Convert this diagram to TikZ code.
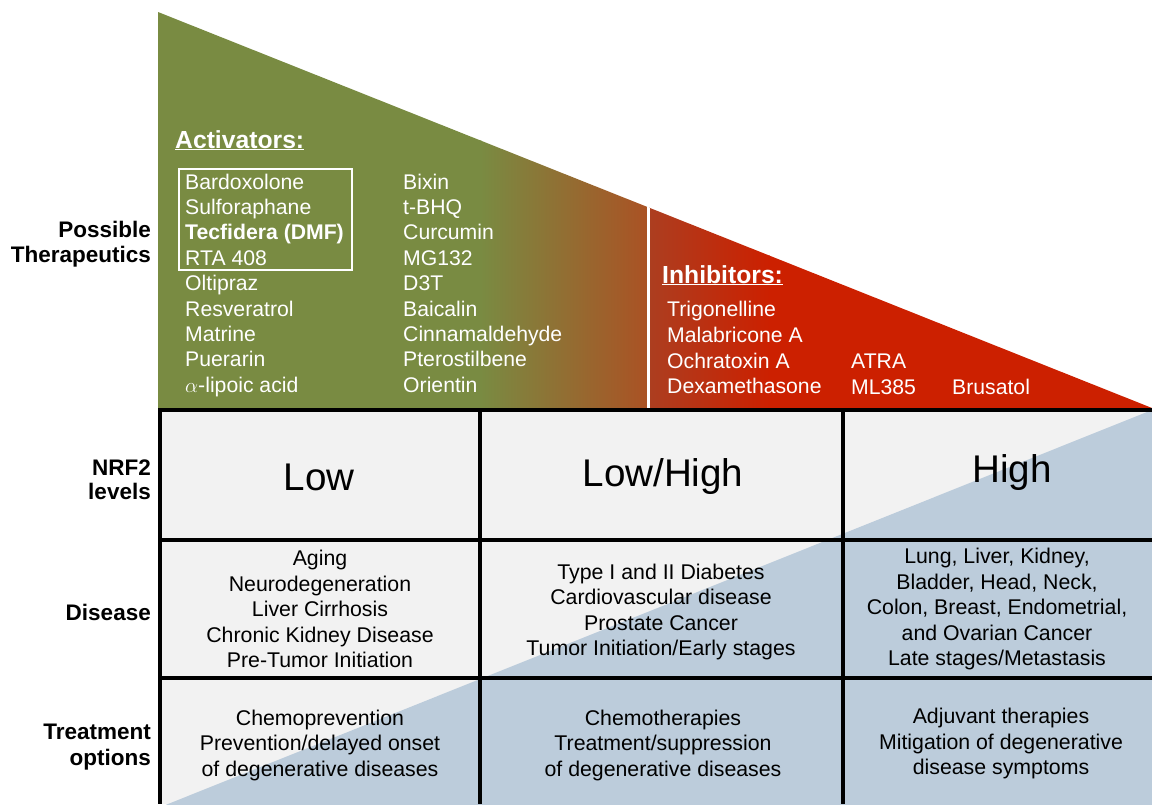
\documentclass[tikz,border=0pt]{standalone}
\usepackage{fontspec}
\setmainfont{Liberation Sans}
\usetikzlibrary{calc}
\definecolor{grn}{RGB}{121,139,66}
\definecolor{brn}{RGB}{170,82,36}
\definecolor{rbr}{RGB}{172,62,32}
\definecolor{redA}{RGB}{204,32,0}
\definecolor{cellgray}{RGB}{242,242,242}
\definecolor{cellblue}{RGB}{188,204,219}
\begin{document}
\begin{tikzpicture}[x=1pt,y=-1pt,
  item/.style={anchor=base west,text=white,inner sep=0pt,font=\fontsize{21.2}{25}\selectfont},
  head/.style={anchor=base west,text=white,inner sep=0pt,font=\bfseries\fontsize{24.7}{28}\selectfont},
  rowlab/.style={anchor=base east,inner sep=0pt,font=\bfseries\fontsize{22.5}{25}\selectfont},
  level/.style={inner sep=0pt,font=\fontsize{38.6}{42}\selectfont},
  cell/.style={align=center,inner sep=0pt,font=\fontsize{21.3}{25.5}\selectfont},
  grid/.style={line width=4pt,black}]
\useasboundingbox (0,0) rectangle (1152,804);
\fill[white] (0,0) rectangle (1152,804);
% triangle
\begin{scope}
\clip (158,12) -- (1152,408) -- (158,410) -- cycle;
\fill[grn] (158,0) rectangle (482,410);
\shade[left color=grn,right color=brn] (480,0) rectangle (647,410);
\shade[left color=rbr,right color=redA] (649,0) rectangle (770,410);
\fill[redA] (769,0) rectangle (1152,410);
\fill[white] (646.5,0) rectangle (650,410);
\end{scope}
% table background
\begin{scope}
\clip (158,409) rectangle (1152,804);
\fill[cellgray] (158,409) rectangle (1152,804);
\fill[cellblue] (158,808) -- (1152,410) -- (1152,808) -- cycle;
\end{scope}
\draw[grid] (158,409.5) -- (1152,409.5);
\draw[grid] (158,540) -- (1152,540);
\draw[grid] (158,678) -- (1152,678);
\draw[grid] (160,408) -- (160,804);
\draw[grid] (480,408) -- (480,804);
\draw[grid] (843,408) -- (843,804);
% row labels
\node[rowlab] (lp1) at (151,237) {Possible};
\node[rowlab] (lp2) at (151,262) {Therapeutics};
\node[rowlab] (ln1) at (151,475) {NRF2};
\node[rowlab] (ln2) at (151,499) {levels};
\node[rowlab] (ld) at (151,620) {Disease};
\node[rowlab] (lt1) at (151,739) {Treatment};
\node[rowlab] (lt2) at (151,765) {options};
% activators
\node[head] (acth) at (175,148) {\underline{Activators:}};
\foreach [count=\i] \t in {Bardoxolone,Sulforaphane,{\bfseries Tecfidera (DMF)},RTA 408,Oltipraz,Resveratrol,Matrine,Puerarin,{$\alpha$-lipoic acid}}
  \node[item] (actA\i) at (185,163.6+25.4*\i) {\t};
\foreach [count=\i] \t in {Bixin,t-BHQ,Curcumin,MG132,D3T,Baicalin,Cinnamaldehyde,Pterostilbene,Orientin}
  \node[item] (actB\i) at (403,163.6+25.4*\i) {\t};
\draw[white,line width=2pt] (179,168.5) rectangle (352,269.5);
% inhibitors
\node[head] (inhh) at (662,283) {\underline{Inhibitors:}};
\foreach [count=\i] \t in {Trigonelline,Malabricone A,Ochratoxin A,Dexamethasone}
  \node[item] (inh\i) at (667,291.2+25.6*\i) {\t};
\node[item] (atra) at (851,368) {ATRA};
\node[item] (ml) at (851,394) {ML385};
\node[item] (bru) at (952,394) {Brusatol};
% NRF2 levels
\node[level] (low) at (319,477) {Low};
\node[level] (lowhigh) at (663,477) {Low/High};
\node[level] (high) at (1012,473) {High};
% disease
\node[cell] (d1) at (320,609) {Aging\\Neurodegeneration\\Liver Cirrhosis\\Chronic Kidney Disease\\Pre-Tumor Initiation};
\node[cell] (d2) at (661,612) {Type I and II Diabetes\\Cardiovascular disease\\Prostate Cancer\\Tumor Initiation/Early stages};
\node[cell] (d3) at (997,609) {Lung, Liver, Kidney,\\Bladder, Head, Neck,\\Colon, Breast, Endometrial,\\and Ovarian Cancer\\Late stages/Metastasis};
% treatment
\node[cell] (t1) at (320,745) {Chemoprevention\\Prevention/delayed onset\\of degenerative diseases};
\node[cell] (t2) at (663,745) {Chemotherapies\\Treatment/suppression\\of degenerative diseases};
\node[cell] (t3) at (1001,743.5) {Adjuvant therapies\\Mitigation of degenerative\\disease symptoms};
\end{tikzpicture}
\end{document}
